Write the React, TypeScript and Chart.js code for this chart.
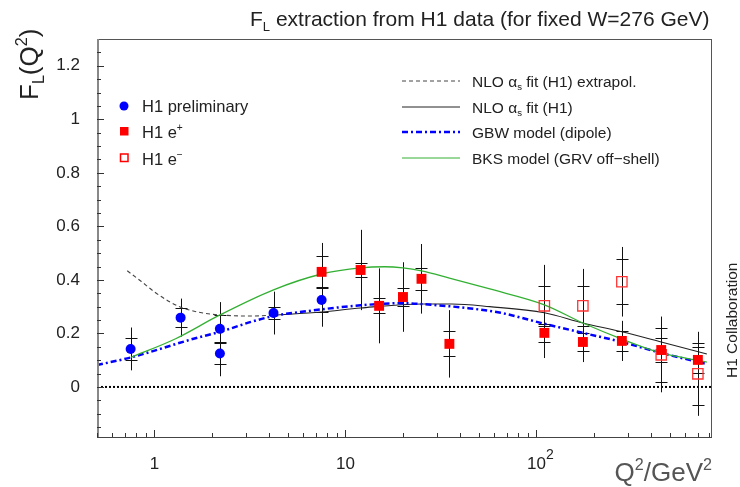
import React, { useEffect, useRef } from "react";
import { Chart, registerables } from "chart.js";

Chart.register(...registerables);

// ---------- data ----------
const prelimQ2 = [0.75, 1.37, 2.2, 2.2, 4.2, 7.5];
const prelimFL = [0.142, 0.259, 0.217, 0.125, 0.276, 0.325];
const prelimStat = [0.04, 0.035, 0.05, 0.04, 0.023, 0.045];
const prelimTot = [0.08, 0.071, 0.1, 0.085, 0.08, 0.1];

const ePlusQ2 = [7.5, 12, 15, 20, 25, 35, 110, 175, 280, 450, 700];
const ePlusFL = [0.43, 0.437, 0.303, 0.336, 0.404, 0.161, 0.202, 0.168, 0.172, 0.138, 0.101];
const ePlusStat = [0.058, 0.027, 0.028, 0.034, 0.041, 0.047, 0.033, 0.032, 0.036, 0.045, 0.05];
const ePlusTot = [0.108, 0.15, 0.14, 0.13, 0.13, 0.126, 0.094, 0.075, 0.075, 0.125, 0.1];

const eMinusQ2 = [110, 175, 280, 450, 700];
const eMinusFL = [0.303, 0.303, 0.393, 0.12, 0.049];
const eMinusStat = [0.075, 0.075, 0.084, 0.1, 0.117];
const eMinusTot = [0.153, 0.138, 0.13, 0.14, 0.157];

const nloExtrapQ2 = [0.72, 0.85, 1.0, 1.2, 1.37, 1.74, 2.2, 3.2, 4.2];
const nloExtrapFL = [0.434, 0.395, 0.355, 0.318, 0.298, 0.278, 0.269, 0.265, 0.268];

const nloQ2 = [4.2, 7.5, 12, 25, 36, 57, 110, 175, 280, 450, 780];
const nloFL = [0.268, 0.28, 0.295, 0.31, 0.31, 0.3, 0.277, 0.239, 0.206, 0.168, 0.123];

const gbwQ2 = [0.5, 0.75, 1.6, 2.3, 3.2, 4.2, 6.6, 12, 20, 28, 43, 65, 110, 175, 280, 450, 780];
const gbwFL = [0.082, 0.11, 0.18, 0.21, 0.243, 0.265, 0.285, 0.305, 0.313, 0.307, 0.295, 0.277, 0.236, 0.202, 0.168, 0.127, 0.086];

const bksQ2 = [0.75, 1.29, 2.2, 4.2, 7.5, 12, 16, 20, 25, 35, 57, 110, 175, 280, 450, 780];
const bksFL = [0.11, 0.18, 0.269, 0.363, 0.422, 0.445, 0.449, 0.445, 0.434, 0.407, 0.366, 0.307, 0.239, 0.179, 0.127, 0.093];

const xTickVals = [1, 10, 100];
const xTickLabels = ["1", "10", "10"];
const xTickSups = ["", "", "2"];
const yTickVals = [0, 0.2, 0.4, 0.6, 0.8, 1, 1.2];
const yTickLabels = ["0", "0.2", "0.4", "0.6", "0.8", "1", "1.2"];

const FONT = "'Liberation Sans', Arial, sans-serif";
const TICK_SIZE = 17;

const toXY = (xs: number[], ys: number[]) => xs.map((x, i) => ({ x, y: ys[i] }));

type Part = { t: string; s?: "sub" | "sup" };

function richWidth(ctx: CanvasRenderingContext2D, parts: Part[], size: number) {
  let w = 0;
  for (const p of parts) {
    const sz = p.s ? size * 0.62 : size;
    ctx.font = `${sz}px ${FONT}`;
    w += ctx.measureText(p.t).width;
  }
  return w;
}

function drawRich(ctx: CanvasRenderingContext2D, x: number, y: number, parts: Part[], size: number, color: string) {
  ctx.fillStyle = color;
  ctx.textBaseline = "alphabetic";
  ctx.textAlign = "left";
  let cx = x;
  for (const p of parts) {
    const sz = p.s ? size * 0.62 : size;
    ctx.font = `${sz}px ${FONT}`;
    const dy = p.s === "sub" ? size * 0.22 : p.s === "sup" ? -size * 0.42 : 0;
    ctx.fillText(p.t, cx, y + dy);
    cx += ctx.measureText(p.t).width;
  }
}

const decoPlugin = {
  id: "deco",
  beforeDatasetsDraw(chart: any) {
    const ctx = chart.ctx as CanvasRenderingContext2D;
    const ys = chart.scales.y;
    const area = chart.chartArea;
    // zero line
    ctx.save();
    ctx.strokeStyle = "#000";
    ctx.lineWidth = 2;
    ctx.setLineDash([2, 2]);
    const y0 = ys.getPixelForValue(0);
    ctx.beginPath();
    ctx.moveTo(area.left, y0);
    ctx.lineTo(area.right, y0);
    ctx.stroke();
    ctx.restore();
    // error bars
    ctx.save();
    ctx.strokeStyle = "#111";
    ctx.lineWidth = 1;
    chart.data.datasets.forEach((ds: any, i: number) => {
      if (!ds.statErr) return;
      const meta = chart.getDatasetMeta(i);
      meta.data.forEach((pt: any, j: number) => {
        const v = ds.data[j].y;
        const x = Math.round(pt.x) + 0.5;
        const t1 = ys.getPixelForValue(v + ds.totErr[j]);
        const t2 = ys.getPixelForValue(v - ds.totErr[j]);
        const s1 = Math.round(ys.getPixelForValue(v + ds.statErr[j])) + 0.5;
        const s2 = Math.round(ys.getPixelForValue(v - ds.statErr[j])) + 0.5;
        ctx.beginPath();
        ctx.moveTo(x, t1);
        ctx.lineTo(x, t2);
        ctx.moveTo(x - 6, s1);
        ctx.lineTo(x + 6, s1);
        ctx.moveTo(x - 6, s2);
        ctx.lineTo(x + 6, s2);
        ctx.stroke();
      });
    });
    ctx.restore();
  },
  afterDraw(chart: any) {
    const ctx = chart.ctx as CanvasRenderingContext2D;
    const xs = chart.scales.x;
    const ys = chart.scales.y;
    const a = chart.chartArea;
    ctx.save();
    // frame
    ctx.strokeStyle = "#555";
    ctx.lineWidth = 1;
    ctx.strokeRect(a.left + 0.5, a.top + 0.5, a.right - a.left - 1, a.bottom - a.top);
    ctx.strokeStyle = "#888";
    ctx.lineWidth = 2;
    ctx.beginPath();
    ctx.moveTo(a.left + 1, a.top);
    ctx.lineTo(a.left + 1, a.bottom);
    ctx.stroke();
    ctx.strokeStyle = "#444";
    ctx.lineWidth = 1;
    ctx.beginPath();
    ctx.moveTo(a.left, a.bottom + 0.5);
    ctx.lineTo(a.right, a.bottom + 0.5);
    ctx.stroke();
    // y ticks
    ctx.strokeStyle = "#333";
    ctx.beginPath();
    for (let k = -3; k <= 25; k++) {
      const v = k * 0.05;
      const p = Math.round(ys.getPixelForValue(v)) + 0.5;
      if (p < a.top || p > a.bottom) continue;
      const len = k % 4 === 0 ? 7 : 4;
      ctx.moveTo(a.left, p);
      ctx.lineTo(a.left + len, p);
    }
    // x ticks
    for (let e = -1; e <= 2; e++) {
      for (let m = 1; m <= 9; m++) {
        const v = m * Math.pow(10, e);
        if (v < xs.min || v > xs.max) continue;
        const p = Math.round(xs.getPixelForValue(v)) + 0.5;
        const len = m === 1 ? 7 : 4;
        ctx.moveTo(p, a.bottom);
        ctx.lineTo(p, a.bottom - len);
      }
    }
    ctx.stroke();

    // superscripts on x tick labels
    xTickVals.forEach((v, i) => {
      if (!xTickSups[i]) return;
      ctx.font = `${TICK_SIZE}px ${FONT}`;
      const w = ctx.measureText(xTickLabels[i]).width;
      const px = xs.getPixelForValue(v) + w / 2;
      drawRich(ctx, px, 459, [{ t: xTickSups[i] }], 14, "#222");
    });

    // title
    drawRich(ctx, 250, 26, [{ t: "F" }, { t: "L", s: "sub" }, { t: " extraction from H1 data (for fixed W=276 GeV)" }], 21, "#222");

    // y title (rotated)
    ctx.save();
    ctx.translate(38, 100);
    ctx.rotate(-Math.PI / 2);
    drawRich(ctx, 0, 0, [{ t: "F" }, { t: "L", s: "sub" }, { t: "(Q" }, { t: "2", s: "sup" }, { t: ")" }], 26, "#222");
    ctx.restore();

    // x title
    const xt: Part[] = [{ t: "Q" }, { t: "2", s: "sup" }, { t: "/" }, { t: "GeV" }, { t: "2", s: "sup" }];
    const w = richWidth(ctx, xt, 26);
    drawRich(ctx, 712 - w, 481, xt, 26, "#555");

    // H1 Collaboration
    ctx.save();
    ctx.translate(737, 378);
    ctx.rotate(-Math.PI / 2);
    drawRich(ctx, 0, 0, [{ t: "H1 Collaboration" }], 15.5, "#222");
    ctx.restore();

    // left legend
    ctx.fillStyle = "#0000ff";
    ctx.beginPath();
    ctx.arc(124, 106, 4.5, 0, Math.PI * 2);
    ctx.fill();
    ctx.fillStyle = "#ff0000";
    ctx.fillRect(120, 127, 8.5, 8.5);
    ctx.strokeStyle = "#ff0000";
    ctx.lineWidth = 1.5;
    ctx.strokeRect(120.5, 154, 7.5, 7.5);
    drawRich(ctx, 142, 112, [{ t: "H1 preliminary" }], 16.5, "#222");
    drawRich(ctx, 142, 138, [{ t: "H1 e" }, { t: "+", s: "sup" }], 16.5, "#222");
    drawRich(ctx, 142, 165, [{ t: "H1 e" }, { t: "−", s: "sup" }], 16.5, "#222");

    // right legend
    const rows = [81, 107, 132, 158];
    const seg = (yy: number, color: string, lw: number, dash: number[]) => {
      ctx.strokeStyle = color;
      ctx.lineWidth = lw;
      ctx.setLineDash(dash);
      ctx.beginPath();
      ctx.moveTo(402, yy);
      ctx.lineTo(460, yy);
      ctx.stroke();
      ctx.setLineDash([]);
    };
    seg(rows[0], "#444", 1, [4, 3]);
    seg(rows[1], "#222", 1, []);
    seg(rows[2], "#0000ff", 2.5, [6, 3, 2, 3]);
    seg(rows[3], "#33b033", 1, []);
    const ls = 15.5;
    drawRich(ctx, 472, rows[0] + 6, [{ t: "NLO α" }, { t: "s", s: "sub" }, { t: " fit (H1) extrapol." }], ls, "#222");
    drawRich(ctx, 472, rows[1] + 6, [{ t: "NLO α" }, { t: "s", s: "sub" }, { t: " fit (H1)" }], ls, "#222");
    drawRich(ctx, 472, rows[2] + 6, [{ t: "GBW model (dipole)" }], ls, "#222");
    drawRich(ctx, 472, rows[3] + 6, [{ t: "BKS model (GRV off−shell)" }], ls, "#222");
    ctx.restore();
  },
};

export default function App() {
  const ref = useRef<HTMLCanvasElement>(null);
  useEffect(() => {
    const canvas = ref.current!;
    const chart = new Chart(canvas, {
      type: "scatter",
      data: {
        datasets: [
          {
            label: "H1 preliminary",
            data: toXY(prelimQ2, prelimFL),
            pointStyle: "circle",
            pointRadius: 5,
            backgroundColor: "#0000ff",
            borderColor: "#0000ff",
            borderWidth: 0,
            showLine: false,
            statErr: prelimStat,
            totErr: prelimTot,
          } as any,
          {
            label: "H1 e+",
            data: toXY(ePlusQ2, ePlusFL),
            pointStyle: "rect",
            pointRadius: 7,
            backgroundColor: "#ff0000",
            borderColor: "#ff0000",
            borderWidth: 0,
            showLine: false,
            statErr: ePlusStat,
            totErr: ePlusTot,
          } as any,
          {
            label: "H1 e-",
            data: toXY(eMinusQ2, eMinusFL),
            pointStyle: "rect",
            pointRadius: 7.3,
            backgroundColor: "rgba(255,255,255,0)",
            borderColor: "#ff3333",
            borderWidth: 1.3,
            showLine: false,
            statErr: eMinusStat,
            totErr: eMinusTot,
          } as any,
          {
            label: "BKS",
            data: toXY(bksQ2, bksFL),
            showLine: true,
            pointRadius: 0,
            borderColor: "#33b033",
            borderWidth: 1.3,
            cubicInterpolationMode: "monotone",
          },
          {
            label: "GBW",
            data: toXY(gbwQ2, gbwFL),
            showLine: true,
            pointRadius: 0,
            borderColor: "#0000ff",
            borderWidth: 2.5,
            borderDash: [6, 3, 2, 3],
            cubicInterpolationMode: "monotone",
          },
          {
            label: "NLO",
            data: toXY(nloQ2, nloFL),
            showLine: true,
            pointRadius: 0,
            borderColor: "#222",
            borderWidth: 1.1,
            cubicInterpolationMode: "monotone",
          },
          {
            label: "NLO extrap",
            data: toXY(nloExtrapQ2, nloExtrapFL),
            showLine: true,
            pointRadius: 0,
            borderColor: "#444",
            borderWidth: 1.1,
            borderDash: [4, 3],
            cubicInterpolationMode: "monotone",
          },
        ],
      },
      options: {
        responsive: false,
        animation: false,
        events: [],
        layout: { padding: { top: 39, right: 28, left: 0, bottom: 0 } },
        plugins: { legend: { display: false }, tooltip: { enabled: false }, title: { display: false } },
        scales: {
          x: {
            type: "logarithmic",
            min: 0.5,
            max: 830,
            grid: { display: false },
            border: { display: false },
            afterBuildTicks: (s: any) => {
              s.ticks = xTickVals.map((v) => ({ value: v }));
            },
            afterFit: (s: any) => {
              s.height = 50;
            },
            ticks: {
              autoSkip: false,
              maxRotation: 0,
              padding: 9,
              color: "#222",
              font: { family: FONT, size: TICK_SIZE },
              callback: (_v: any, i: number) => xTickLabels[i],
            },
          },
          y: {
            type: "linear",
            min: -0.187,
            max: 1.3,
            grid: { display: false },
            border: { display: false },
            afterBuildTicks: (s: any) => {
              s.ticks = yTickVals.map((v) => ({ value: v }));
            },
            afterFit: (s: any) => {
              s.width = 97;
            },
            ticks: {
              autoSkip: false,
              padding: 9,
              color: "#222",
              font: { family: FONT, size: TICK_SIZE },
              callback: (_v: any, i: number) => yTickLabels[i],
            },
          },
        },
      },
      plugins: [decoPlugin],
    } as any);
    return () => chart.destroy();
  }, []);
  return (
    <div style={{ position: "absolute", left: 0, top: 0, width: 740, height: 487, background: "#fff" }}>
      <canvas ref={ref} width={740} height={487} style={{ display: "block" }} />
    </div>
  );
}
